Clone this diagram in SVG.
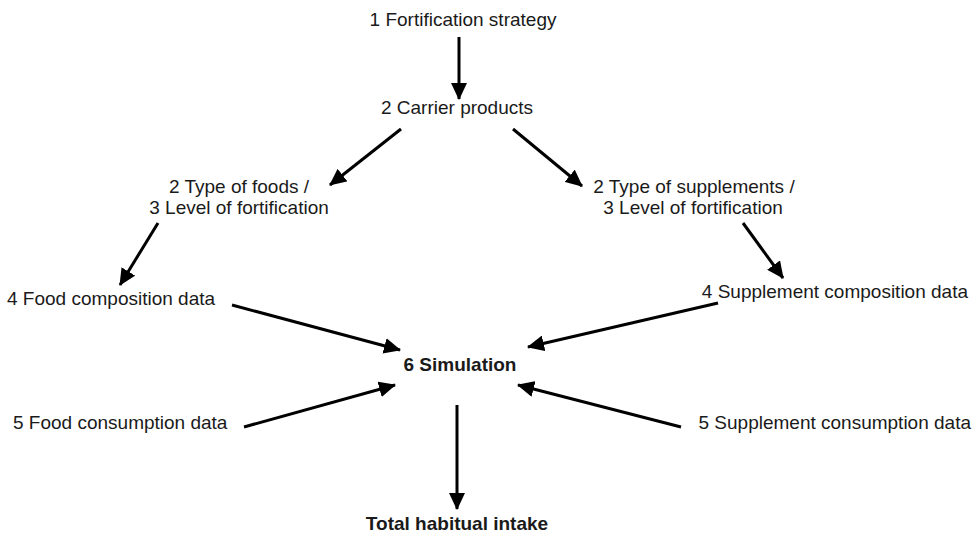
<svg xmlns="http://www.w3.org/2000/svg" width="976" height="535" viewBox="0 0 976 535">
<style>
text{font-family:"Liberation Sans",Arial,sans-serif;font-size:19px;fill:#1a1a1a}
.b{font-weight:bold}
.c{stroke:#000;stroke-width:3;fill:none;marker-end:url(#ah)}
</style>
<defs>
<marker id="ah" markerUnits="userSpaceOnUse" markerWidth="18" markerHeight="16" refX="16" refY="8" orient="auto">
<path d="M0,0 L17,8 L0,16 Z" fill="#000"/>
</marker>
</defs>
<rect width="976" height="535" fill="#fff"/>
<g id="connectors">
<line class="c" x1="459" y1="37" x2="459" y2="99"/>
<line class="c" x1="401" y1="129" x2="330" y2="185"/>
<line class="c" x1="513" y1="129" x2="582" y2="186"/>
<line class="c" x1="158" y1="223" x2="120" y2="285"/>
<line class="c" x1="743" y1="223" x2="783" y2="278"/>
<line class="c" x1="232" y1="305" x2="400" y2="350"/>
<line class="c" x1="718" y1="303" x2="528" y2="347"/>
<line class="c" x1="244" y1="427" x2="395" y2="385"/>
<line class="c" x1="681" y1="427" x2="518" y2="385"/>
<line class="c" x1="457" y1="405" x2="457" y2="509"/>
</g>
<g id="n1"><text x="463" y="26" text-anchor="middle">1 Fortification strategy</text></g>
<g id="n2"><text x="457" y="114" text-anchor="middle">2 Carrier products</text></g>
<g id="n3"><text x="239" y="193" text-anchor="middle">2 Type of foods /</text><text x="239" y="214" text-anchor="middle">3 Level of fortification</text></g>
<g id="n4"><text x="694" y="193" text-anchor="middle">2 Type of supplements /</text><text x="693" y="214" text-anchor="middle">3 Level of fortification</text></g>
<g id="n5"><text x="7" y="305">4 Food composition data</text></g>
<g id="n6"><text x="968" y="298" text-anchor="end">4 Supplement composition data</text></g>
<g id="n7"><text class="b" x="460" y="371" text-anchor="middle">6 Simulation</text></g>
<g id="n8"><text x="13" y="429">5 Food consumption data</text></g>
<g id="n9"><text x="971" y="429" text-anchor="end">5 Supplement consumption data</text></g>
<g id="n10"><text class="b" x="457" y="530" text-anchor="middle">Total habitual intake</text></g>
</svg>
